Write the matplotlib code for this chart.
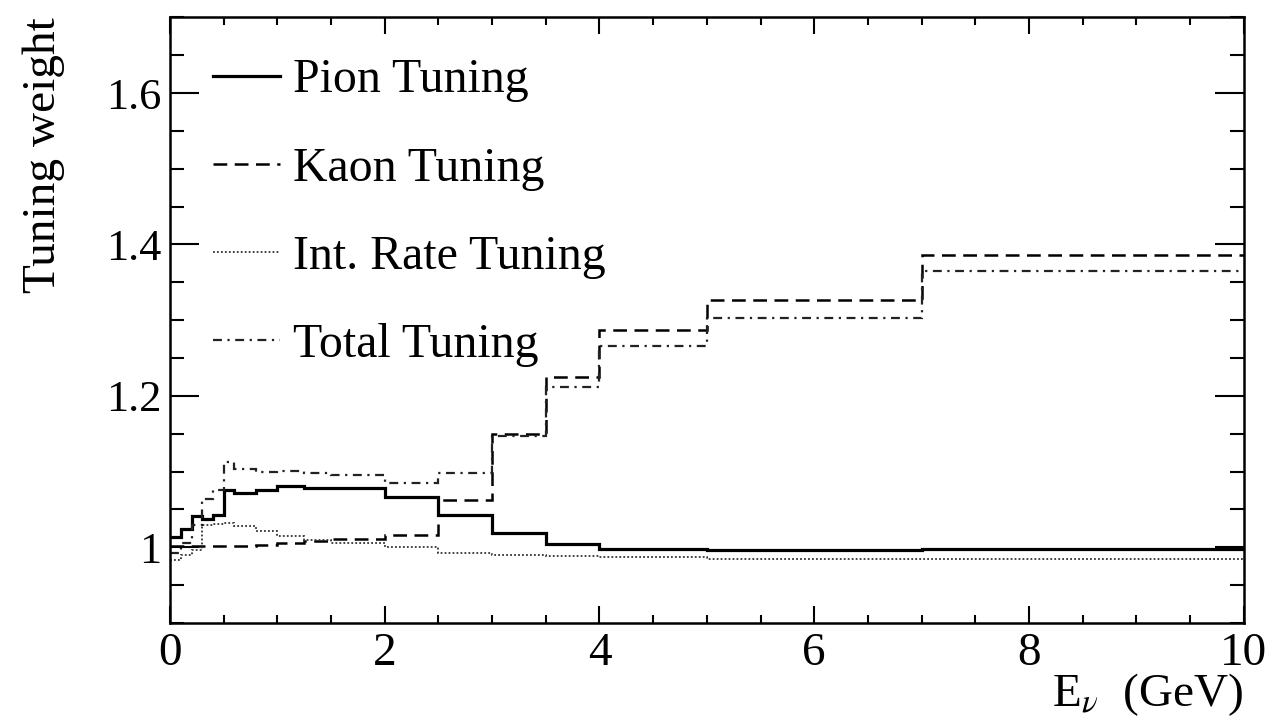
import matplotlib
matplotlib.use("Agg")
import matplotlib.pyplot as plt
from matplotlib.ticker import MultipleLocator, FixedLocator, FixedFormatter

# ---- data ----
edges = [0, 0.1, 0.2, 0.3, 0.4, 0.5, 0.6, 0.8, 1.0, 1.25, 1.5, 2.0, 2.5, 3.0, 3.5, 4.0, 5.0, 7.0, 10.0]
pion = [1.013, 1.024, 1.041, 1.037, 1.042, 1.076, 1.071, 1.076, 1.081, 1.078, 1.078, 1.066, 1.042, 1.019, 1.004, 0.998, 0.996, 0.998]
kaon = [1.002, 1.002, 1.002, 1.002, 1.002, 1.002, 1.002, 1.003, 1.006, 1.008, 1.011, 1.016, 1.062, 1.150, 1.225, 1.287, 1.326, 1.386]
intrate = [0.983, 0.990, 0.996, 1.029, 1.031, 1.032, 1.028, 1.022, 1.015, 1.010, 1.005, 1.000, 0.993, 0.990, 0.988, 0.987, 0.985, 0.985]
total = [0.992, 1.005, 1.030, 1.064, 1.076, 1.112, 1.104, 1.100, 1.101, 1.098, 1.096, 1.085, 1.098, 1.147, 1.212, 1.266, 1.303, 1.365]

labels = ["Pion Tuning", "Kaon Tuning", "Int. Rate Tuning", "Total Tuning"]
xticks = [0, 2, 4, 6, 8, 10]
xticklabels = ["0", "2", "4", "6", "8", "10"]
yticks = [1.0, 1.2, 1.4, 1.6]
yticklabels = ["1", "1.2", "1.4", "1.6"]

plt.rcParams["font.family"] = ["Liberation Serif", "DejaVu Serif"]
plt.rcParams["mathtext.fontset"] = "stix"

fig = plt.figure(figsize=(12.69, 7.21), dpi=100)
ax = fig.add_axes([0.134, 0.136, 0.846, 0.840])

ax.stairs(pion, edges, baseline=None, color="black", lw=2.3, linestyle="-", label=labels[0])
ax.stairs(kaon, edges, baseline=None, color="black", lw=1.8, linestyle=(0, (5.5, 3.0)), label=labels[1])
ax.stairs(intrate, edges, baseline=None, color="#333333", lw=1.3, linestyle=(0, (1.0, 1.2)), label=labels[2])
ax.stairs(total, edges, baseline=None, color="#222222", lw=1.6, linestyle=(0, (4.0, 2.5, 1.0, 2.5)), label=labels[3])

ax.set_xlim(0, 10)
ax.set_ylim(0.9, 1.7)

ax.xaxis.set_major_locator(FixedLocator(xticks))
ax.xaxis.set_major_formatter(FixedFormatter(xticklabels))
ax.xaxis.set_minor_locator(MultipleLocator(0.5))
ax.yaxis.set_major_locator(FixedLocator(yticks))
ax.yaxis.set_major_formatter(FixedFormatter(yticklabels))
ax.yaxis.set_minor_locator(MultipleLocator(0.05))

ax.tick_params(axis="both", which="both", direction="in", top=True, right=True, width=1.5, colors="black")
ax.tick_params(axis="x", which="major", length=12, labelsize=34, pad=7)
ax.tick_params(axis="x", which="minor", length=6)
ax.tick_params(axis="y", which="major", length=21, labelsize=32, pad=6)
ax.tick_params(axis="y", which="minor", length=10)
for s in ax.spines.values():
    s.set_linewidth(1.8)

ax.set_ylabel("Tuning weight", fontsize=34, loc="top", labelpad=30)
ax.set_xlabel("E$_{\\nu}$  (GeV)", fontsize=34, loc="right", labelpad=-3)

leg = ax.legend(loc="upper left", bbox_to_anchor=(0.04, 0.932), frameon=False,
                fontsize=34.5, handlelength=1.4, handletextpad=0.27, labelspacing=0.92,
                borderpad=0, borderaxespad=0)

fig.savefig("out.png", dpi=100)
